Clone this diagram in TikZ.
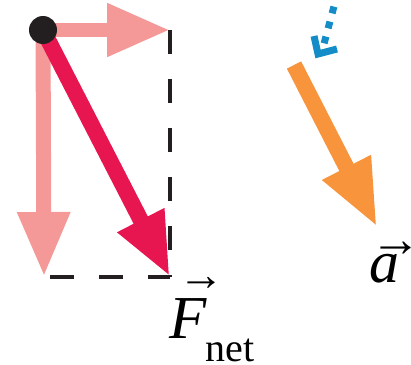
\documentclass[tikz,border=0pt]{standalone}
\usepackage{fontspec}
\setmainfont{Liberation Serif}
\usetikzlibrary{arrows.meta}
\definecolor{compcolor}{HTML}{F49898}
\definecolor{netcolor}{HTML}{E81650}
\definecolor{acccolor}{HTML}{F7943C}
\definecolor{jerkcolor}{HTML}{148CC8}
\definecolor{dotcolor}{HTML}{231F20}
% letter with a vector arrow: #1 letter, #2 shift, #3 raise, #4 arrow size
\newcommand{\vecletter}[4]{\makebox[0pt][l]{\kern#2\raisebox{#3}{\fontsize{#4}{#4}\selectfont →}}{\itshape #1}}
\begin{document}
\begin{tikzpicture}[x=1pt, y=-1pt,
    component/.style={draw=compcolor, line width=14pt},
    netforce/.style={draw=netcolor, line width=16pt, -{Triangle[length=64pt, width=48pt]}},
    accel/.style={draw=acccolor, line width=16pt, -{Triangle[length=67pt, width=50pt]}},
    guide/.style={draw=dotcolor, line width=3.5pt, dash pattern=on 24pt off 25pt},
    hint/.style={draw=jerkcolor, line width=7pt}]
  \useasboundingbox (0,0) rectangle (411,364);
  \coordinate (O) at (43,30);
  \coordinate (Fx) at (170,30);
  \coordinate (Fy) at (44,277);
  \coordinate (F) at (170,277);
  \coordinate (corner) at (50,277);
  % components of the net force
  \draw[component, -{Triangle[length=63pt, width=50pt]}] (O) -- (Fx);
  \draw[component, line width=15pt, -{Triangle[length=65pt, width=49pt]}] (O) -- (Fy);
  % completing the rectangle
  \draw[guide] (Fx) -- (F);
  \draw[guide] (corner) -- (F);
  \draw[netforce] (O) -- (F);
  \node (body) [circle, fill=dotcolor, minimum size=28pt, inner sep=0pt] at (O) {};
  \node (Flabel) [anchor=base west, inner sep=0pt] at (169,338)
    {\fontsize{61}{61}\selectfont\vecletter{F}{9pt}{48pt}{46pt}\kern-1pt\raisebox{-23pt}{\fontsize{40}{40}\selectfont net}};
  % acceleration
  \coordinate (a0) at (294,65);
  \coordinate (a1) at (377,227);
  \draw[accel] (a0) -- (a1);
  \node (alabel) [anchor=base west, inner sep=0pt] at (369,282)
    {\fontsize{60}{60}\selectfont\vecletter{a}{1pt}{26pt}{51pt}};
  % dotted hint arrow
  \coordinate (h0) at (333.9,6.6);
  \coordinate (h1) at (324.1,43.4);
  \coordinate (hl) at (314,36);
  \coordinate (hc) at (318,54);
  \coordinate (hr) at (337,49);
  \draw[hint, dash pattern=on 7pt off 8.5pt] (h0) -- (h1);
  \draw[hint, miter limit=4] (hl) -- (hc) -- (hr);
\end{tikzpicture}
\end{document}
